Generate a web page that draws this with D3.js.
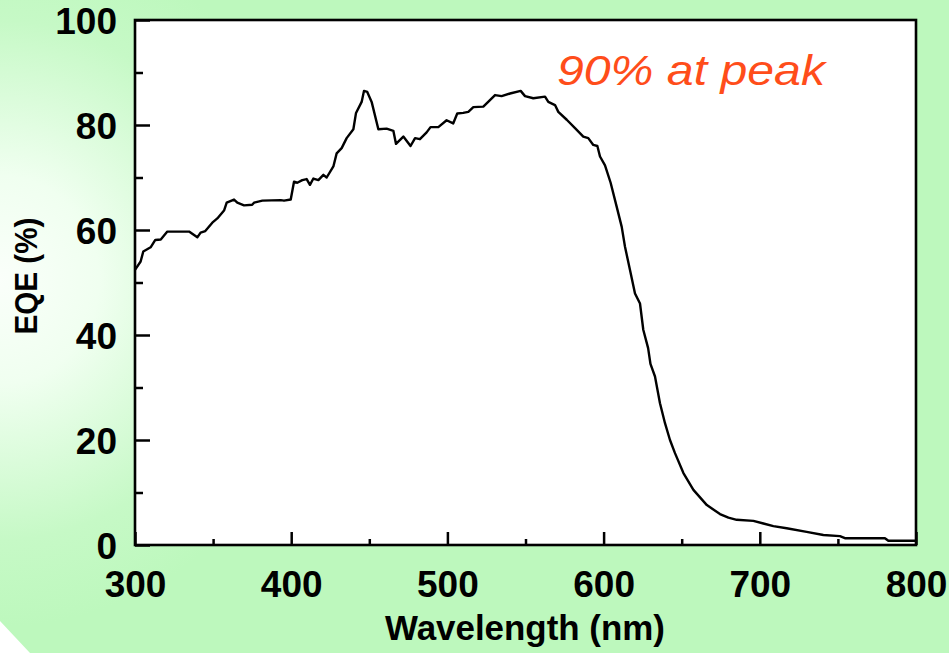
<!DOCTYPE html>
<html>
<head>
<meta charset="utf-8">
<script src="https://cdn.jsdelivr.net/npm/d3@7"></script>
<style>
  html, body { margin: 0; padding: 0; background: #ffffff; }
  svg { display: block; }
  text { font-family: "Liberation Sans", Arial, sans-serif; }
</style>
</head>
<body>
<svg id="chart" width="949" height="653"></svg>
<script>
// ---- data ----
const wavelength = [300,303.6,305.3,310,313,316.5,320.7,334.6,339.9,342,345,349.5,352.7,357,358.7,363.4,365.5,369.8,375,376.2,381.5,393.3,395.4,399.7,401.8,403.9,407.1,409.9,412,414.2,417.4,420.6,422.7,427,429.1,432.3,435.5,439.8,441.5,445.1,446.6,448.7,451.5,455.8,461.1,465.4,467.1,471.8,476.4,479.3,482.4,486.7,489.2,494.2,499.5,503.7,506.3,510.1,513.4,516.6,523,530.5,534.7,540.1,546.9,549.7,555,562.5,564.6,568.9,571,576.4,581.7,587,590.2,593.4,596,597.7,600.9,604.5,608.4,611.6,613.7,616.9,620.1,623.3,625.4,628.5,630,632.9,636.1,639.3,642.5,645.7,651.1,657.5,666.1,674.5,679.9,685.2,695.9,702.3,708.7,717.2,730,740.7,751.3,754.5,780.1,782.3,800];
const eqe = [52.4,54.0,55.9,56.7,58.1,58.2,59.7,59.7,58.6,59.5,59.8,61.4,62.2,63.7,65.2,65.8,65.2,64.7,64.8,65.2,65.6,65.7,65.6,65.8,69.2,69.0,69.5,69.7,68.6,69.8,69.5,70.5,70.0,72.1,74.6,75.6,77.5,79.2,82.3,84.4,86.5,86.3,84.4,79.2,79.3,78.9,76.4,77.8,76.0,77.5,77.3,78.6,79.6,79.6,80.9,80.3,82.2,82.3,82.5,83.4,83.5,85.7,85.5,86.0,86.5,85.5,85.1,85.4,84.4,83.8,82.5,81.0,79.4,77.8,77.5,76.2,76.0,74.0,72.3,69.0,64.4,60.6,56.8,52.4,47.9,46.0,41.0,37.5,34.5,32.1,27.0,23.2,20.0,17.5,13.7,10.5,7.6,5.9,5.2,4.8,4.6,4.1,3.6,3.2,2.5,1.9,1.7,1.3,1.3,0.8,0.8];
const xMajorTicks = [300,400,500,600,700,800];
const xMinorTicks = [350,450,550,650,750];
const yMajorTicks = [0,20,40,60,80,100];
const yMinorTicks = [10,30,50,70,90];
const xTitle = "Wavelength (nm)";
const yTitle = "EQE (%)";
const annotation = "90% at peak";

// ---- drawing ----
const W = 949, H = 653;
const L = 135, R = 916, T = 20, B = 545;
const svg = d3.select("#chart");
const defs = svg.append("defs");

const rg = defs.append("radialGradient").attr("id", "bg")
  .attr("gradientUnits", "userSpaceOnUse")
  .attr("cx", 0).attr("cy", 280).attr("r", 330)
  .attr("gradientTransform", "translate(0,280) scale(1,1.05) translate(0,-280)");
rg.append("stop").attr("offset", "0").attr("stop-color", "#fafffa");
rg.append("stop").attr("offset", "0.3").attr("stop-color", "#f0fff0");
rg.append("stop").attr("offset", "0.75").attr("stop-color", "#c6f9c6");
rg.append("stop").attr("offset", "1").attr("stop-color", "#bdf8bd");

svg.append("rect").attr("width", W).attr("height", H).attr("fill", "url(#bg)");
// white corner cut at bottom-left
svg.append("path").attr("d", `M0,${H-32}L30,${H}L0,${H}Z`).attr("fill", "#ffffff");

const x = d3.scaleLinear().domain([300, 800]).range([L, R]);
const y = d3.scaleLinear().domain([0, 100]).range([B, T]);

// plot background
svg.append("rect").attr("x", L).attr("y", T).attr("width", R - L).attr("height", B - T)
  .attr("fill", "#ffffff");

// axes (ticks inward)
const gxMinor = svg.append("g").attr("transform", `translate(0,${B})`)
  .call(d3.axisBottom(x).tickValues(xMinorTicks).tickSize(-6).tickFormat(""));
const gxMajor = svg.append("g").attr("transform", `translate(0,${B})`)
  .call(d3.axisBottom(x).tickValues(xMajorTicks).tickSize(-13).tickFormat(d3.format("d")));
const gyMinor = svg.append("g").attr("transform", `translate(${L},0)`)
  .call(d3.axisLeft(y).tickValues(yMinorTicks).tickSize(-8).tickFormat(""));
const gyMajor = svg.append("g").attr("transform", `translate(${L},0)`)
  .call(d3.axisLeft(y).tickValues(yMajorTicks).tickSize(-15).tickFormat(d3.format("d")));

[gxMinor, gxMajor, gyMinor, gyMajor].forEach(g => {
  g.select(".domain").remove();
  g.selectAll(".tick line").attr("stroke", "#000").attr("stroke-width", 2.5);
});

gxMajor.selectAll(".tick text")
  .attr("y", 52).attr("dy", null)
  .attr("font-size", 37).attr("font-weight", "bold").attr("fill", "#000")
  .attr("font-family", "'Liberation Sans', Arial, sans-serif");
gyMajor.selectAll(".tick text")
  .attr("x", -18).attr("dy", 13)
  .attr("font-size", 37).attr("font-weight", "bold").attr("fill", "#000")
  .attr("font-family", "'Liberation Sans', Arial, sans-serif");

// curve
const line = d3.line().x((d, i) => x(wavelength[i])).y(d => y(d));
svg.append("path").datum(eqe)
  .attr("d", line)
  .attr("fill", "none").attr("stroke", "#000").attr("stroke-width", 2.4)
  .attr("stroke-linejoin", "round");

// frame
svg.append("rect").attr("x", L).attr("y", T).attr("width", R - L).attr("height", B - T)
  .attr("fill", "none").attr("stroke", "#000").attr("stroke-width", 2.6);

// titles
svg.append("text").attr("x", 525).attr("y", 640).attr("text-anchor", "middle")
  .attr("font-size", 35).attr("font-weight", "bold").attr("fill", "#000")
  .attr("textLength", 280).attr("lengthAdjust", "spacingAndGlyphs")
  .text(xTitle);
svg.append("text").attr("transform", "translate(37,276) rotate(-90)")
  .attr("text-anchor", "middle")
  .attr("font-size", 31).attr("font-weight", "bold").attr("fill", "#000")
  .attr("textLength", 117).attr("lengthAdjust", "spacingAndGlyphs")
  .text(yTitle);

// annotation
svg.append("text").attr("x", 557).attr("y", 85)
  .attr("font-size", 42).attr("font-style", "italic").attr("fill", "#ff4d1a")
  .attr("textLength", 268).attr("lengthAdjust", "spacingAndGlyphs")
  .text(annotation);
</script>
</body>
</html>
